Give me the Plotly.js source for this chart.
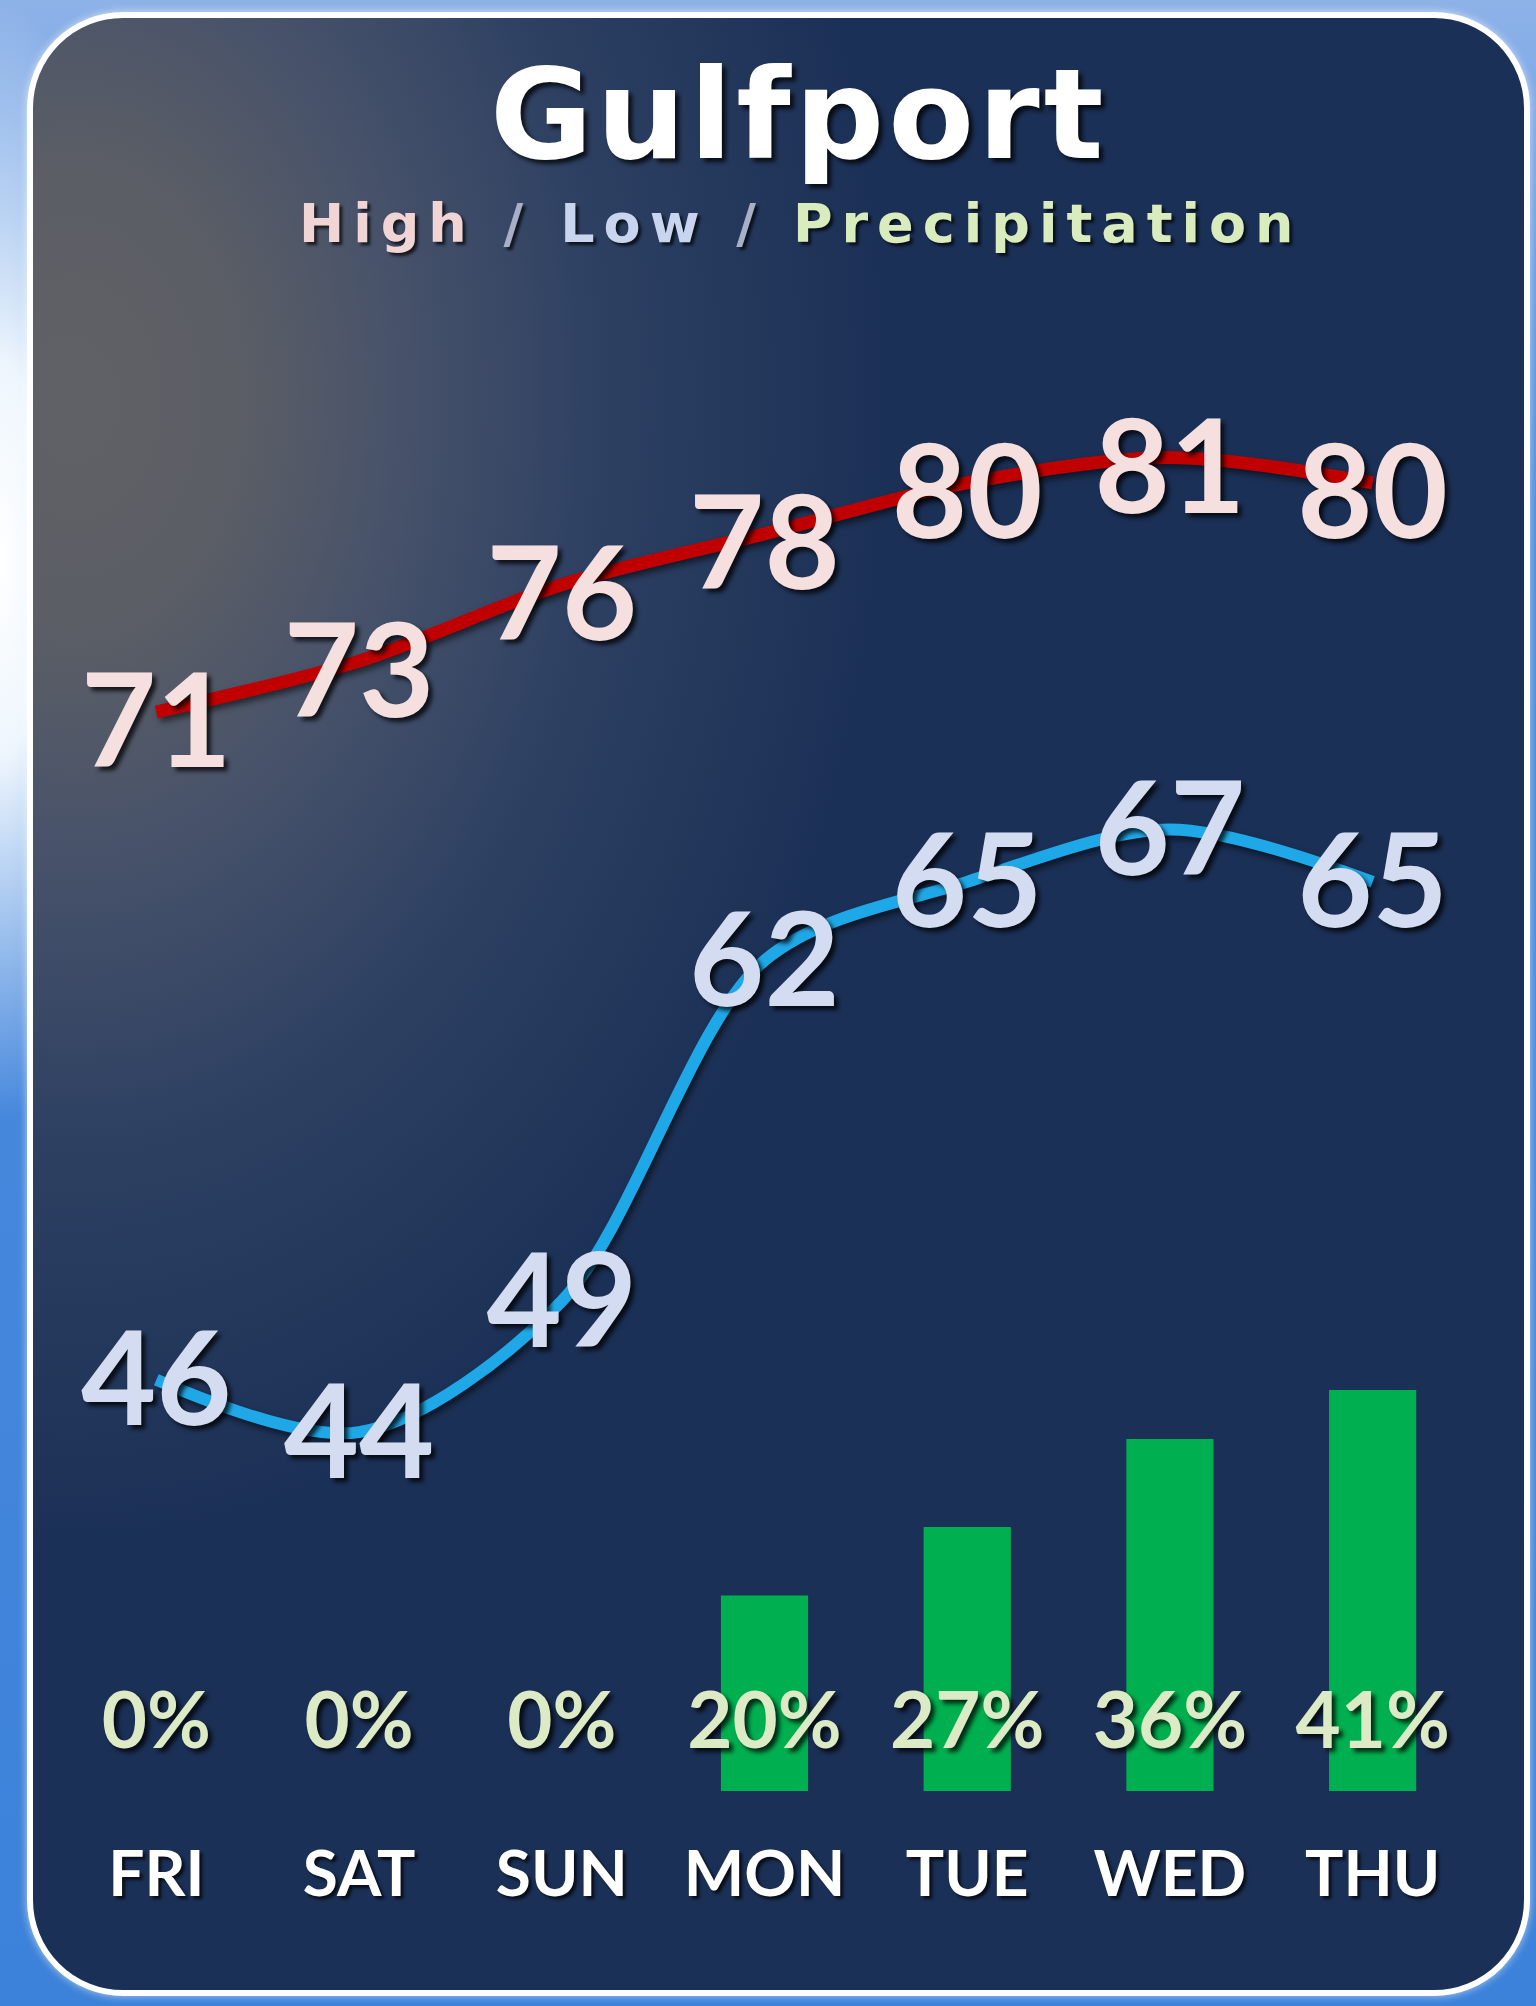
<!DOCTYPE html>
<html>
<head>
<meta charset="utf-8">
<script src="https://cdn.plot.ly/plotly-3.0.1.min.js"></script>
<style>
  html, body { margin:0; padding:0; }
  body {
    width:1536px; height:2006px; overflow:hidden; position:relative;
    background:
      radial-gradient(ellipse 140px 560px at 0px 560px, #ffffff 0%, #eef6fd 35%, rgba(255,255,255,0) 100%),
      linear-gradient(180deg, #8db2e8 0%, #4c8bdd 25%, #3c82da 100%);
  }
  #card {
    position:absolute; left:27px; top:12px; width:1503px; height:1984px;
    box-sizing:border-box; border:6px solid #ffffff; border-radius:96px;
    background:
      radial-gradient(ellipse 820px 1150px at 40px 380px, #606166 0%, #5b5e65 20%, #47526a 40%, #2d4062 65%, rgba(27,48,86,0) 100%),
      #1b3056;
    box-shadow: 0 0 8px rgba(255,255,255,0.6);
  }
  #chart { position:absolute; left:0; top:0; width:1536px; height:2006px; }
  #chart .annotation-text { letter-spacing: 9px; }
  #chart .gtitle { letter-spacing: 4px; }
  #chart path.js-line { filter: drop-shadow(3px 4px 3px rgba(0,0,0,0.55)); }
</style>
</head>
<body>
<div id="card"></div>
<div id="chart"></div>
<script>
// ---- data ----
const days = ["FRI", "SAT", "SUN", "MON", "TUE", "WED", "THU"];
const highs = [71, 73, 76, 78, 80, 81, 80];
const lows = [46, 44, 49, 62, 65, 67, 65];
const precip = [0, 0, 0, 20, 27, 36, 41];
const cityName = "Gulfport";

// ---- styles ----
const PCT_ROW = 6.4; // level (in % axis units) of the precipitation label row
const shadow = "4px 4px 4px rgba(0,0,0,0.75)";
const HIGH_RANGE = [28.60, 87.19];
const LOW_RANGE = [30.30, 87.21];
const HIGH_LABEL_SHIFT = 0.9;  // labels sit slightly below their points
const LOW_LABEL_SHIFT = 0.5;
const tempFont = (c) => ({ family: "Lato", size: 130, weight: 700, color: c, shadow: shadow });

const traces = [
  {
    type: "bar", x: days, y: precip, yaxis: "y3",
    marker: { color: "#00b050" }, width: 0.43, hoverinfo: "skip"
  },
  {
    type: "scatter", mode: "text", x: days, y: days.map(() => PCT_ROW), yaxis: "y3",
    text: precip.map(p => p + "%"), textposition: "middle center", cliponaxis: false,
    textfont: { family: "Lato", size: 78, weight: 700, color: "#dcebc6", shadow: shadow },
    hoverinfo: "skip"
  },
  {
    type: "scatter", mode: "lines", x: days, y: highs, yaxis: "y",
    line: { color: "#c00000", width: 13, shape: "spline", smoothing: 0.9 }, hoverinfo: "skip"
  },
  {
    type: "scatter", mode: "text", x: days, y: highs, yaxis: "y4",
    text: highs.map(String), textposition: "middle center", cliponaxis: false,
    textfont: tempFont("#f6dfdf"), hoverinfo: "skip"
  },
  {
    type: "scatter", mode: "lines", x: days, y: lows, yaxis: "y2",
    line: { color: "#1fa8e8", width: 12, shape: "spline", smoothing: 0.9 }, hoverinfo: "skip"
  },
  {
    type: "scatter", mode: "text", x: days, y: lows, yaxis: "y5",
    text: lows.map(String), textposition: "middle center", cliponaxis: false,
    textfont: tempFont("#d3dcf1"), hoverinfo: "skip"
  }
];

const hidden = { visible: false, showgrid: false, zeroline: false, fixedrange: true };

const layout = {
  width: 1536, height: 2006,
  margin: { l: 55, r: 62, t: 300, b: 215 },
  paper_bgcolor: "rgba(0,0,0,0)", plot_bgcolor: "rgba(0,0,0,0)",
  showlegend: false, hovermode: false,
  title: {
    text: cityName, x: 0.52, xanchor: "center", y: 0.943, yanchor: "middle",
    font: { family: "DejaVu Sans", size: 125, weight: 700, color: "#ffffff", shadow: shadow }
  },
  xaxis: {
    type: "category", showgrid: false, zeroline: false, showline: false, ticks: "",
    ticklabelstandoff: 40, fixedrange: true,
    tickfont: { family: "Lato", size: 64, weight: 700, color: "#ffffff", shadow: "3px 3px 3px rgba(0,0,0,0.7)" }
  },
  yaxis: Object.assign({ range: HIGH_RANGE }, hidden),
  yaxis2: Object.assign({ range: LOW_RANGE, overlaying: "y" }, hidden),
  yaxis3: Object.assign({ range: [0, 152.45], overlaying: "y" }, hidden),
  yaxis4: Object.assign({ range: HIGH_RANGE.map(v => v + HIGH_LABEL_SHIFT), overlaying: "y" }, hidden),
  yaxis5: Object.assign({ range: LOW_RANGE.map(v => v + LOW_LABEL_SHIFT), overlaying: "y" }, hidden),
  annotations: [{
    xref: "paper", yref: "paper", x: 0.526, y: 1.051, xanchor: "center", yanchor: "middle",
    showarrow: false,
    text: '<span style="color:#f1d5d5">High</span><span style="color:#a7b0c6"> / </span>' +
          '<span style="color:#c9d4ee">Low</span><span style="color:#a7b0c6"> / </span>' +
          '<span style="color:#d9ecbe">Precipitation</span>',
    font: { family: "DejaVu Sans", size: 54, weight: 700, color: "#ffffff", shadow: "3px 3px 3px rgba(0,0,0,0.7)" }
  }]
};

Plotly.newPlot("chart", traces, layout, { displayModeBar: false, staticPlot: true });
</script>
</body>
</html>
